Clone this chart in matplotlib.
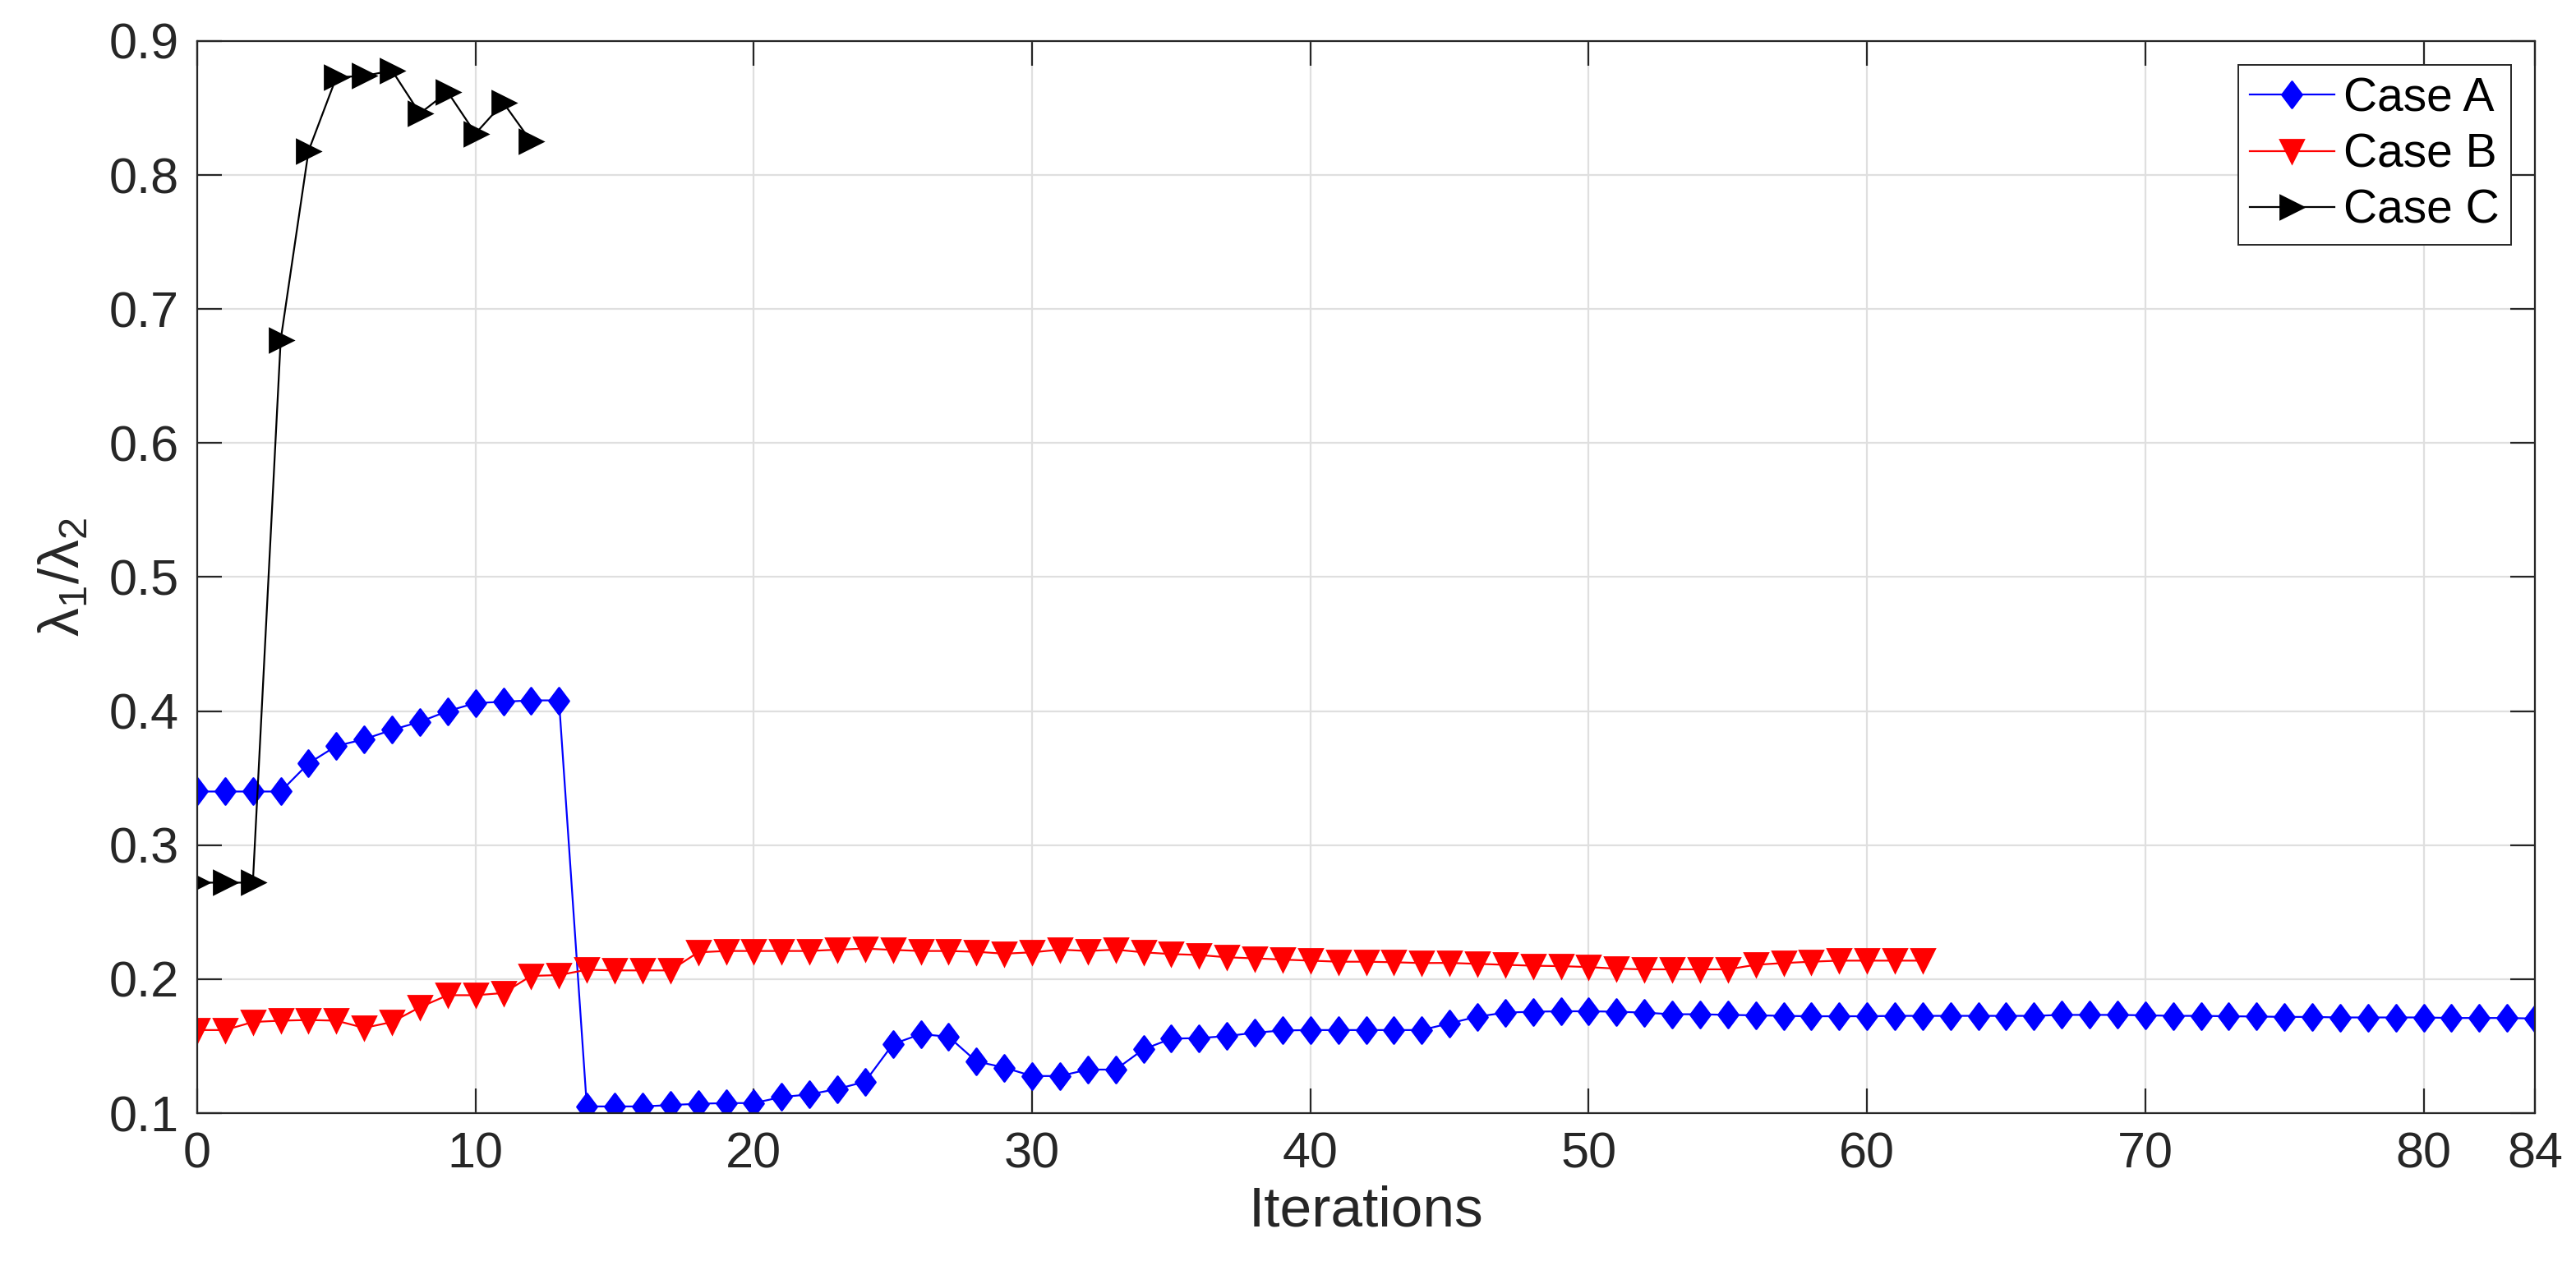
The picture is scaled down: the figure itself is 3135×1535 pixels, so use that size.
import numpy as np
import matplotlib
matplotlib.use('Agg')
from matplotlib import pyplot as plt
from matplotlib.path import Path

# values
case_a = [0.340, 0.340, 0.340, 0.340, 0.361, 0.374, 0.379, 0.386, 0.392, 0.400,
          0.406, 0.407, 0.408, 0.408, 0.105, 0.105, 0.105, 0.106, 0.107, 0.1075,
          0.1075, 0.112, 0.114, 0.118, 0.1235, 0.1515, 0.159, 0.157, 0.1386, 0.134,
          0.1277, 0.1277, 0.1325, 0.1325, 0.1476, 0.1556, 0.156, 0.1575, 0.160, 0.1617,
          0.162, 0.162, 0.162, 0.162, 0.162, 0.167, 0.172, 0.175, 0.1757, 0.176,
          0.176, 0.1757, 0.175, 0.1738, 0.1738, 0.1733, 0.173, 0.1726, 0.1723, 0.1723,
          0.1723, 0.1726, 0.1726, 0.1726, 0.1726, 0.1726, 0.1726, 0.1733, 0.1733, 0.1733,
          0.173, 0.1726, 0.1726, 0.1723, 0.1721, 0.1718, 0.1718, 0.1714, 0.1714, 0.1714,
          0.1714, 0.171, 0.171, 0.171, 0.1706]
case_b = [0.162, 0.162, 0.168, 0.169, 0.1695, 0.169, 0.1636, 0.168, 0.179, 0.188,
          0.188, 0.1896, 0.2024, 0.203, 0.207, 0.2065, 0.2065, 0.2065, 0.220, 0.221,
          0.221, 0.221, 0.221, 0.222, 0.2228, 0.2218, 0.221, 0.221, 0.2204, 0.219,
          0.220, 0.222, 0.221, 0.222, 0.220, 0.2187, 0.218, 0.2163, 0.2155, 0.2146,
          0.2138, 0.213, 0.213, 0.2126, 0.212, 0.2121, 0.2114, 0.2107, 0.210, 0.2097,
          0.209, 0.2078, 0.2073, 0.2073, 0.2073, 0.2073, 0.2107, 0.212, 0.213, 0.2138,
          0.2138, 0.2138, 0.2138]
case_c = [0.272, 0.272, 0.272, 0.677, 0.818, 0.873, 0.874, 0.878, 0.846, 0.862,
          0.831, 0.854, 0.825]
x_ticks = [0, 10, 20, 30, 40, 50, 60, 70, 80, 84]
y_ticks = [0.1, 0.2, 0.3, 0.4, 0.5, 0.6, 0.7, 0.8, 0.9]

plt.rcParams['font.family'] = ['Liberation Sans', 'DejaVu Sans']
plt.rcParams['mathtext.fontset'] = 'custom'
plt.rcParams['mathtext.rm'] = 'Liberation Sans'
plt.rcParams['mathtext.it'] = 'Liberation Sans'
plt.rcParams['mathtext.default'] = 'regular'

# matlab-like diamond (a bit narrower than tall)
diamond = Path([(-0.75, 0), (0, 1), (0.75, 0), (0, -1), (-0.75, 0)],
               [Path.MOVETO, Path.LINETO, Path.LINETO, Path.LINETO, Path.CLOSEPOLY])

fig = plt.figure(figsize=(15.675, 7.675), dpi=200)
ax = fig.add_axes([240 / 3135, 1 - 1355 / 1535, 2845 / 3135, 1305 / 1535])

ax.plot(np.arange(len(case_a)), case_a, color='b', lw=0.8, marker=diamond,
        markersize=11.5, label='Case A')
ax.plot(np.arange(len(case_b)), case_b, color='r', lw=0.8, marker='v',
        markersize=10, label='Case B')
ax.plot(np.arange(len(case_c)), case_c, color='k', lw=0.8, marker='>',
        markersize=10, label='Case C')

ax.set_xlim(0, 84)
ax.set_ylim(0.1, 0.9)
ax.set_xticks(x_ticks)
ax.set_yticks(y_ticks)
ax.set_xticklabels([str(t) for t in x_ticks])
ax.set_yticklabels(['%.1f' % t for t in y_ticks])
ax.grid(True, color='#dfdfdf', lw=0.8)
ax.set_axisbelow(True)
for s in ax.spines.values():
    s.set_color('#262626')
    s.set_linewidth(0.8)
ax.tick_params(direction='in', length=10.8, width=0.8, colors='#262626',
               labelcolor='#262626', labelsize=22, top=True, right=True, pad=8)

ax.set_xlabel('Iterations', fontsize=25, color='#262626', labelpad=3)
ax.set_ylabel(r'$\lambda_1/\lambda_2$', fontsize=25, color='#262626', labelpad=8)

leg = ax.legend(loc='upper right', bbox_to_anchor=(1 - 29 / 2845, 1 - 29 / 1305),
                borderaxespad=0, fontsize=20.5, fancybox=False, framealpha=1,
                edgecolor='#262626', handlelength=1.8, labelspacing=0.25,
                borderpad=0.25, handletextpad=0.2)
leg.get_frame().set_linewidth(0.7)

plt.savefig('out.png', dpi=200)
